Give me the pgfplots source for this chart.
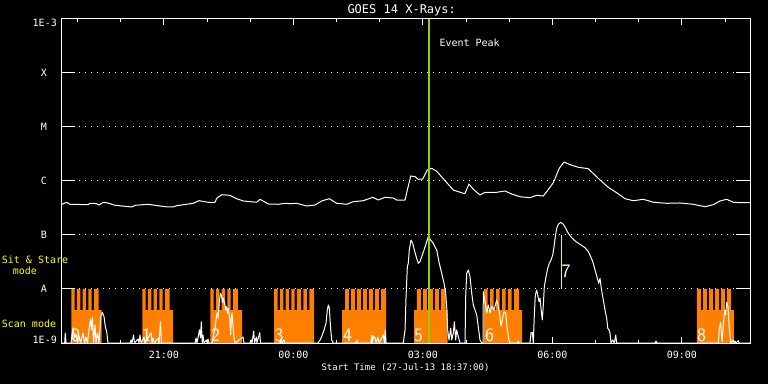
\documentclass[border=0pt]{standalone}
\usepackage{fontspec}
\setmainfont{DejaVu Sans Mono}
\usepackage{pgfplots}
\pgfplotsset{compat=1.18}
\definecolor{orangeC}{RGB}{255,128,0}
\definecolor{peakC}{RGB}{153,204,0}
\definecolor{yelC}{RGB}{255,255,0}
\newcommand{\lab}{\fontsize{10bp}{12bp}\selectfont}
\begin{document}
\begin{tikzpicture}
\fill[black] (-61bp,-41bp) rectangle (707bp,343bp);
\begin{axis}[
  scale only axis, width=689bp, height=324bp,
  at={(0,0)}, anchor=south west,
  xmin=0, xmax=957.7, ymin=-9, ymax=-3,
  axis line style={white, line width=1bp},
  xtick={143,323,503,683,863},
  xticklabels={21:00,00:00,03:00,06:00,09:00},
  minor xtick={23,83,203,263,383,443,563,623,743,803,923},
  major tick length=6bp, minor tick length=3bp,
  xtick style={white, line width=1bp},
  ytick={-8,-7,-6,-5,-4}, yticklabels={}, ytick style={draw=none},
  ymajorgrids, grid style={white, line width=1bp, dash pattern=on 1bp off 5bp},
  xticklabel style={font=\lab, text=white, anchor=center, yshift=-12bp, inner sep=0pt},
]
% Sit & Stare / scan mode blocks
\addplot[fill=orangeC, draw=none] coordinates {(14.3,-9) (14.3,-8) (19.0,-8) (19.0,-8.389) (22.2,-8.389) (22.2,-8) (26.8,-8) (26.8,-8.389) (30.2,-8.389) (30.2,-8) (34.7,-8) (34.7,-8.389) (37.9,-8.389) (37.9,-8) (42.7,-8) (42.7,-8.389) (45.9,-8.389) (45.9,-8) (52.4,-8) (52.4,-8.389) (56.6,-8.389) (56.6,-9)};
\addplot[fill=orangeC, draw=none] coordinates {(113.0,-9) (113.0,-8) (117.7,-8) (117.7,-8.389) (120.9,-8.389) (120.9,-8) (125.5,-8) (125.5,-8.389) (128.9,-8.389) (128.9,-8) (133.4,-8) (133.4,-8.389) (136.6,-8.389) (136.6,-8) (141.4,-8) (141.4,-8.389) (144.6,-8.389) (144.6,-8) (151.1,-8) (151.1,-8.389) (155.7,-8.389) (155.7,-9)};
\addplot[fill=orangeC, draw=none] coordinates {(207.5,-9) (207.5,-8) (212.3,-8) (212.3,-8.389) (215.5,-8.389) (215.5,-8) (220.0,-8) (220.0,-8.389) (223.4,-8.389) (223.4,-8) (228.0,-8) (228.0,-8.389) (231.2,-8.389) (231.2,-8) (235.9,-8) (235.9,-8.389) (239.1,-8.389) (239.1,-8) (246.0,-8) (246.0,-8.389) (251.6,-8.389) (251.6,-9)};
\addplot[fill=orangeC, draw=none] coordinates {(296.1,-9) (296.1,-8) (301.2,-8) (301.2,-8.389) (304.4,-8.389) (304.4,-8) (309.0,-8) (309.0,-8.389) (312.3,-8.389) (312.3,-8) (316.9,-8) (316.9,-8.389) (320.1,-8.389) (320.1,-8) (324.8,-8) (324.8,-8.389) (328.0,-8.389) (328.0,-8) (333.6,-8) (333.6,-8.389) (336.8,-8.389) (336.8,-8) (341.9,-8) (341.9,-8.389) (345.1,-8.389) (345.1,-8) (351.7,-8) (351.7,-9)};
\addplot[fill=orangeC, draw=none] coordinates {(390.6,-9) (390.6,-8.389) (394.8,-8.389) (394.8,-8) (400.3,-8) (400.3,-8.389) (403.1,-8.389) (403.1,-8) (408.7,-8) (408.7,-8.389) (411.4,-8.389) (411.4,-8) (417.0,-8) (417.0,-8.389) (419.8,-8.389) (419.8,-8) (425.3,-8) (425.3,-8.389) (428.1,-8.389) (428.1,-8) (433.7,-8) (433.7,-8.389) (436.5,-8.389) (436.5,-8) (442.0,-8) (442.0,-8.389) (444.8,-8.389) (444.8,-8) (451.8,-8) (451.8,-9)};
\addplot[fill=orangeC, draw=none] coordinates {(490.7,-9) (490.7,-8.389) (494.8,-8.389) (494.8,-8) (500.4,-8) (500.4,-8.389) (503.2,-8.389) (503.2,-8) (508.7,-8) (508.7,-8.389) (511.5,-8.389) (511.5,-8) (517.1,-8) (517.1,-8.389) (519.9,-8.389) (519.9,-8) (525.4,-8) (525.4,-8.389) (528.2,-8.389) (528.2,-8) (534.7,-8) (534.7,-8.389) (537.5,-8.389) (537.5,-9)};
\addplot[fill=orangeC, draw=none] coordinates {(588.0,-9) (588.0,-8) (593.1,-8) (593.1,-8.389) (596.3,-8.389) (596.3,-8) (601.5,-8) (601.5,-8.389) (604.7,-8.389) (604.7,-8) (609.8,-8) (609.8,-8.389) (613.0,-8.389) (613.0,-8) (618.1,-8) (618.1,-8.389) (621.3,-8.389) (621.3,-8) (626.5,-8) (626.5,-8.389) (629.7,-8.389) (629.7,-8) (636.6,-8) (636.6,-8.389) (640.8,-8.389) (640.8,-9)};
\addplot[fill=orangeC, draw=none] coordinates {(884.0,-9) (884.0,-8) (889.6,-8) (889.6,-8.389) (892.4,-8.389) (892.4,-8) (897.9,-8) (897.9,-8.389) (900.7,-8.389) (900.7,-8) (906.3,-8) (906.3,-8.389) (909.1,-8.389) (909.1,-8) (914.6,-8) (914.6,-8.389) (917.4,-8.389) (917.4,-8) (923.0,-8) (923.0,-8.389) (925.7,-8.389) (925.7,-8) (931.3,-8) (931.3,-8.389) (935.1,-8.389) (935.1,-9)};
% long channel (1-8 A)
\addplot[white, line width=1bp, line join=round] coordinates {
(0,-6.439) (7.9,-6.394) (12.5,-6.431) (37.5,-6.439) (40.3,-6.413) (49.6,-6.420) (53.2,-6.444) (58.8,-6.394) (64.9,-6.407) (75.1,-6.450) (98.3,-6.481) (102.9,-6.450) (121.3,-6.431) (130.7,-6.450) (144.6,-6.476) (156.1,-6.481) (160.8,-6.457) (174.7,-6.431) (183.9,-6.413) (191.8,-6.365) (204.7,-6.394) (214.1,-6.394) (216.4,-6.320) (223.4,-6.254) (234.9,-6.265) (244.2,-6.328) (253.4,-6.370) (272,-6.394) (276.6,-6.339) (288.1,-6.426) (302,-6.431) (311.4,-6.413) (318.3,-6.420) (327.6,-6.413) (341.5,-6.463) (353.1,-6.444) (362.4,-6.370) (372.9,-6.328) (383.2,-6.413) (397.1,-6.431) (406.3,-6.383) (420.2,-6.365) (433.3,-6.302) (441,-6.352) (450.4,-6.302) (461.9,-6.315) (466.6,-6.352) (478.2,-6.352) (481.4,-6.167) (486.1,-5.907) (492.1,-5.920) (496.6,-5.969) (502.8,-5.963) (509.1,-5.796) (515.3,-5.765) (522.2,-5.820) (533.8,-5.994) (545.3,-6.167) (559.2,-6.228) (561.6,-6.228) (567.1,-6.056) (573.1,-6.154) (582.4,-6.259) (589.4,-6.209) (605.6,-6.209) (617.2,-6.185) (626.5,-6.241) (638,-6.291) (651.9,-6.309) (661.2,-6.265) (670.4,-6.278) (675.1,-6.198) (684.3,-6.031) (692.6,-5.765) (699.2,-5.648) (707.5,-5.698) (719,-5.746) (732.9,-5.772) (749.2,-5.981) (760.7,-6.117) (772.4,-6.217) (784,-6.328) (795.5,-6.365) (809.4,-6.339) (823.3,-6.394) (841.9,-6.413) (860.4,-6.407) (878.9,-6.431) (895.2,-6.476) (906.7,-6.439) (916,-6.370) (925.3,-6.339) (934.5,-6.394) (943.8,-6.402) (957.7,-6.402)};
% short channel (0.5-4 A)
\addplot[white, line width=1bp, line join=round] coordinates {
(0,-9) (5.1,-9) (6.0,-8.815) (7.0,-9) (13.9,-9) (16.7,-8.722) (18.8,-8.907) (20.9,-8.833) (22.9,-9) (25.0,-8.870) (27.1,-9) (30.6,-8.815) (32.7,-9) (34.8,-8.889) (36.8,-9) (38.9,-8.759) (41.0,-8.556) (42.4,-8.759) (43.8,-8.524) (45.2,-9) (47.3,-8.667) (48.7,-9) (50.7,-8.815) (52.8,-9) (55.2,-8.524) (57.4,-8.431) (59.8,-8.513) (61.6,-8.698) (63.5,-8.791) (65.3,-9)
(95.9,-9) (97.3,-8.944) (98.7,-9) (100.8,-8.852) (102.2,-9) (107.0,-8.926) (108.4,-9) (109.8,-8.852) (111.2,-9) (115.4,-8.889) (116.8,-9) (125.1,-8.815) (126.5,-9) (127.9,-8.907) (130.0,-9) (134.8,-8.907) (136.2,-9) (138.3,-8.606) (139.7,-9)
(186.3,-9) (187.7,-8.907) (189.0,-9) (192.5,-8.759) (193.9,-8.907) (195.0,-8.606) (196.4,-9) (197.4,-8.852) (198.8,-9) (202.0,-8.944) (202.9,-9) (204.3,-8.926) (205.7,-9) (209.9,-9) (211.3,-8.907) (213.6,-8.759) (215.5,-8.574) (216.8,-8.444) (218.2,-8.537) (220.3,-8.204) (221.7,-8.080) (223.1,-8.130) (224.5,-8.259) (225.2,-8.167) (227.5,-8.259) (228.7,-8.389) (229.8,-8.328) (231.4,-8.444) (232.1,-8.352) (234.5,-8.537) (235.9,-8.852) (236.7,-8.574) (237.7,-8.444) (239.1,-8.667) (240.1,-8.870) (241.9,-9)
(253.0,-8.889) (254.4,-9) (262.7,-9) (264.1,-8.944) (265.5,-9) (267.9,-8.778) (269.0,-9) (271.5,-8.889) (272.4,-9) (276.2,-8.809) (277.3,-9)
(304.4,-9) (305.8,-8.926) (307.2,-9) (309.9,-8.944) (311.4,-9)
(357.2,-9) (360.0,-8.944) (362.4,-8.883) (365.6,-8.759) (368.4,-8.630) (370.2,-8.389) (371.6,-8.296) (373.0,-8.352) (374.9,-8.759) (376.3,-8.944) (378.5,-9)
(410.1,-9) (411.0,-8.944) (412.1,-9) (430.9,-9) (431.9,-8.852) (433.0,-9) (434.4,-8.870) (436.5,-8.907) (437.9,-9) (440.6,-8.889) (442.0,-9) (448.0,-8.852) (449.7,-9) (450.8,-8.759) (451.8,-9)
(475.8,-9) (478.2,-8.759) (479.6,-8.143) (481.4,-7.587) (482.7,-7.524) (484.1,-7.278) (486.5,-7.093) (488.9,-7.154) (491.1,-7.278) (494.4,-7.431) (496.6,-7.524) (499.0,-7.494) (501.4,-7.402) (504.6,-7.278) (508.3,-7.124) (510.5,-7.031) (513.9,-7.093) (517.5,-7.154) (522.2,-7.278) (525.8,-7.524) (529.2,-7.709) (532.4,-7.894) (534.7,-8.080) (536.1,-8.328) (537.5,-8.759) (539.3,-8.944) (541.7,-8.728) (543.1,-8.944) (545.3,-8.815) (546.7,-8.606) (548.6,-8.944) (550.0,-8.759) (552.2,-8.883) (554.6,-9)
(561.6,-9) (562.5,-8.143) (563.9,-7.709) (566.2,-7.648) (568.5,-7.772) (570.9,-8.080) (573.1,-8.296) (575.5,-8.389) (577.8,-8.481) (580.0,-8.698) (582.4,-8.944) (584.8,-9)
(586.6,-9) (587.0,-8.050) (589.4,-8.235) (591.7,-8.444) (593.9,-8.296) (596.3,-8.444) (598.7,-8.315) (601.9,-8.389) (605.6,-8.204) (607.8,-8.315) (610.2,-8.513) (611.6,-8.685) (613.4,-8.574) (615.8,-8.420) (618.1,-8.444) (620.4,-8.759) (622.7,-8.944) (624.1,-9)
(635.2,-9) (635.6,-8.963) (636.6,-9) (651.9,-9) (653.3,-8.806) (655.1,-8.806) (656.5,-9) (657.9,-8.481) (659.3,-8.111) (661.2,-8.019) (662.6,-8.111) (664.4,-8.235) (665.8,-8.167) (667.2,-8.357) (669.0,-8.574) (670.4,-8.296) (671.8,-7.957) (674.2,-7.772) (676.5,-7.617) (678.7,-7.524) (681.1,-7.463) (683.5,-7.370) (685.3,-7.217) (687.1,-7.031) (689.0,-6.876) (691.3,-6.802) (694.6,-6.765) (698.2,-6.802) (701.6,-6.876) (705.2,-6.969) (709.9,-7.050) (714.5,-7.111) (721.4,-7.172) (728.4,-7.235) (733.0,-7.309) (736.3,-7.402) (739.1,-7.494) (742.3,-7.648) (745.5,-7.802) (747.4,-7.894) (749.2,-7.802) (751.0,-7.987) (753.8,-8.204) (756.6,-8.420) (758.5,-8.543) (760.0,-8.728) (761.7,-8.759) (763.1,-8.815) (764.5,-9) (766.9,-8.944) (769.1,-9) (771.0,-8.852) (772.4,-9)
(825.7,-9) (827.1,-8.963) (828.4,-9) (913.7,-9) (915.0,-8.728) (917.0,-8.617) (918.8,-8.976) (920.6,-8.667) (922.5,-8.389) (923.9,-8.481) (925.3,-8.246) (927.1,-8.333) (928.9,-8.728) (930.9,-9) (934.5,-8.944) (935.5,-9) (936.9,-8.963) (938.2,-9) (941.4,-8.957) (942.4,-9) (957.7,-9)};
% event peak and flare 7 marker
\draw[peakC, line width=2bp] (axis cs:511.1,-9) -- (axis cs:511.1,-3);
\draw[yelC, line width=1bp] (axis cs:695.4,-8) -- (axis cs:695.4,-7);
\draw[white, line width=1bp] (axis cs:0,-9) -- (axis cs:957.7,-9);
\end{axis}
% y tick marks (long, inward) on both sides
\foreach \yy in {54,108,162,216,270} {
  \draw[white, line width=1bp] (0,\yy bp) -- (14bp,\yy bp);
  \draw[white, line width=1bp] (675bp,\yy bp) -- (689bp,\yy bp);
}
% y tick labels
\node[white, font=\lab, anchor=east, inner sep=0pt] at (-4bp,3.3bp) {1E-9};
\node[white, font=\lab, anchor=east, inner sep=0pt] at (-4bp,320.2bp) {1E-3};
\node[white, font=\lab, inner sep=0pt] at (-17bp,54bp) {A};
\node[white, font=\lab, inner sep=0pt] at (-17bp,108bp) {B};
\node[white, font=\lab, inner sep=0pt] at (-17bp,162bp) {C};
\node[white, font=\lab, inner sep=0pt] at (-17bp,216bp) {M};
\node[white, font=\lab, inner sep=0pt] at (-17bp,270bp) {X};
% mode labels
\node[yelC, font=\lab, anchor=base west, inner sep=0pt] at (-59.3bp,79.7bp) {Sit \& Stare};
\node[yelC, font=\lab, anchor=base west, inner sep=0pt] at (-48.3bp,68bp) {mode};
\node[yelC, font=\lab, anchor=base west, inner sep=0pt] at (-59.3bp,15.7bp) {Scan mode};
% title, x label, event text
\node[white, font=\fontsize{12bp}{14bp}\selectfont, anchor=base, inner sep=0pt] at (340.7bp,329.7bp) {GOES 14 X-Rays:};
\node[white, font=\fontsize{9bp}{11bp}\selectfont, anchor=base, inner sep=0pt] at (344.5bp,-27.5bp) {Start Time (27-Jul-13 18:37:00)};
\node[white, font=\lab, anchor=base west, inner sep=0pt] at (378.3bp,296.3bp) {Event Peak};
% block numbers
\foreach \xx/\nn in {14.5/0,85.5/1,154.5/2,218/3,286.5/4,357.5/5,428.5/6,640.7/8} {
  \node[white, font=\sffamily\fontsize{19bp}{20bp}\selectfont, anchor=base, inner sep=0pt] at (\xx bp,1.3bp) {\nn};
}
\node[white, font=\sffamily\fontsize{19bp}{20bp}\selectfont, anchor=base, inner sep=0pt] at (505bp,65.3bp) {7};
\pgfresetboundingbox
\useasboundingbox (-61bp,-41bp) rectangle (707bp,343bp);
\end{tikzpicture}
\end{document}
